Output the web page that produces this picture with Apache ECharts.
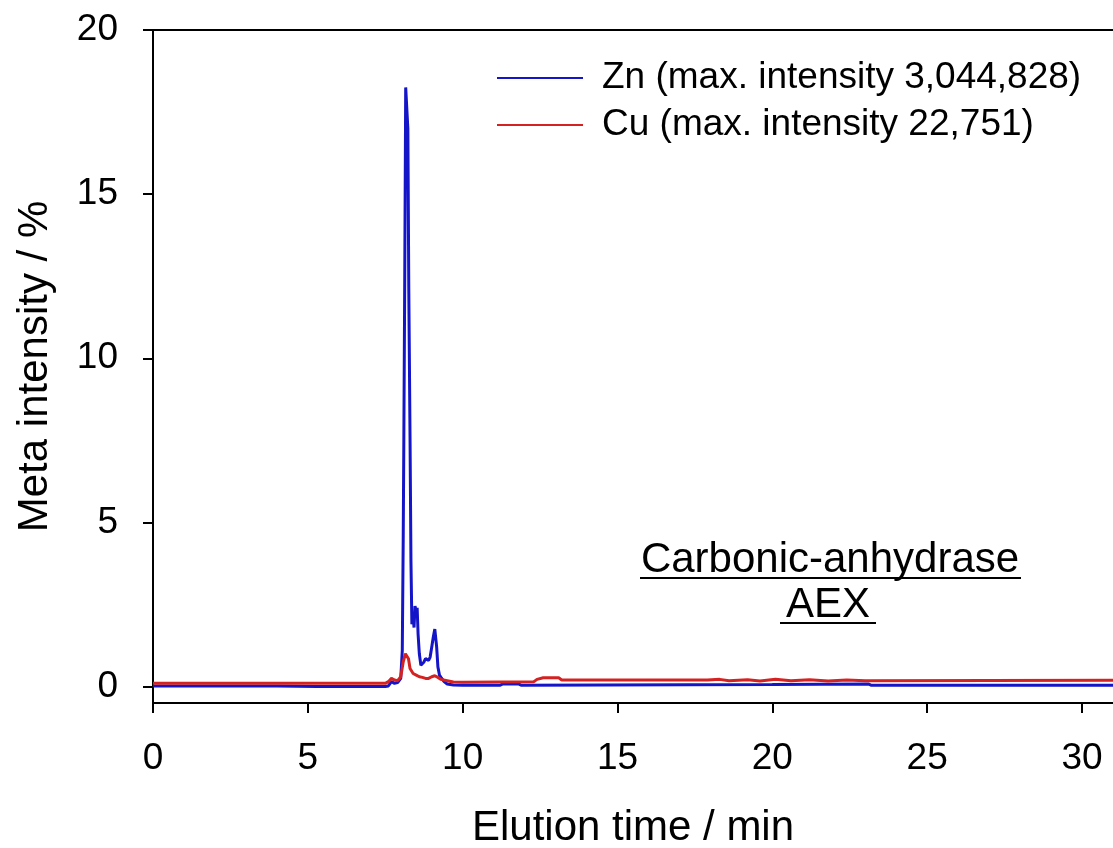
<!DOCTYPE html>
<html>
<head>
<meta charset="utf-8">
<script src="https://cdn.jsdelivr.net/npm/echarts@6/dist/echarts.min.js"></script>
<style>
html,body{margin:0;padding:0;background:#fff;}
#chart{width:1113px;height:848px;}
</style>
</head>
<body>
<div id="chart"></div>
<script>
// ---- data ----
var xTicks = [0, 5, 10, 15, 20, 25, 30];
var yTicks = [0, 5, 10, 15, 20];

var znTime  = [0, 2, 4, 5.3, 6, 7.5, 7.6, 7.7, 7.8, 7.9, 8.0, 8.05, 8.08, 8.1, 8.13, 8.16, 8.2, 8.23, 8.26, 8.3, 8.33, 8.36, 8.4, 8.43, 8.46, 8.5, 8.53, 8.56, 8.6, 8.65, 8.7, 8.75, 8.8, 8.85, 8.9, 8.95, 9.0, 9.05, 9.1, 9.13, 9.16, 9.2, 9.25, 9.3, 9.4, 9.5, 9.7, 10, 11.2, 11.3, 11.8, 11.9, 20, 23.1, 23.2, 31];
var znValue = [0.02, 0.02, 0.02, 0.0, 0.0, 0.0, 0.02, 0.15, 0.1, 0.12, 0.25, 1.1, 4.5, 7.5, 12.6, 18.25, 18.2, 17.0, 12.1, 7.6, 3.8, 1.9, 2.1, 1.8, 2.45, 2.3, 2.4, 1.6, 1.0, 0.65, 0.6, 0.75, 0.85, 0.9, 0.8, 0.9, 1.2, 1.5, 1.75, 1.7, 1.2, 0.6, 0.35, 0.28, 0.15, 0.08, 0.05, 0.04, 0.04, 0.08, 0.08, 0.04, 0.06, 0.08, 0.04, 0.04];

var cuTime  = [0, 7.5, 7.6, 7.7, 7.8, 7.9, 8.0, 8.08, 8.15, 8.2, 8.25, 8.3, 8.4, 8.5, 8.6, 8.7, 8.8, 8.9, 9.0, 9.1, 9.2, 9.3, 9.5, 9.7, 10, 12.3, 12.4, 12.6, 13.1, 13.2, 17.9, 18.3, 18.6, 19.2, 19.6, 20.1, 20.6, 21.2, 21.8, 22.4, 23.0, 31];
var cuValue = [0.1, 0.1, 0.15, 0.25, 0.2, 0.18, 0.3, 0.75, 1.0, 1.05, 0.85, 0.55, 0.4, 0.35, 0.3, 0.28, 0.25, 0.25, 0.3, 0.33, 0.28, 0.22, 0.18, 0.14, 0.13, 0.15, 0.22, 0.27, 0.27, 0.2, 0.2, 0.22, 0.18, 0.21, 0.17, 0.22, 0.18, 0.21, 0.17, 0.2, 0.18, 0.19];

var znName = 'Zn (max. intensity 3,044,828)';
var cuName = 'Cu (max. intensity 22,751)';
var xTitle = 'Elution time / min';
var yTitle = 'Meta intensity / %';
var noteLines = ['Carbonic-anhydrase', 'AEX'];

function pairs(t, v) { return t.map(function (x, i) { return [x, v[i]]; }); }

var FONT = '"Liberation Sans", Arial, sans-serif';
var chart = echarts.init(document.getElementById('chart'), null, {renderer: 'canvas'});

chart.setOption({
  animation: false,
  backgroundColor: '#fff',
  grid: {left: 153, top: 30, right: 0, bottom: 145, containLabel: false, outerBoundsMode: 'none'},
  legend: {
    orient: 'vertical', left: 492, top: 51, itemWidth: 86, itemHeight: 2, itemGap: 3,
    icon: 'rect',
    textStyle: {fontFamily: FONT, fontSize: 37, color: '#000', lineHeight: 44, padding: [0, 0, 0, 14]},
    data: [znName, cuName]
  },
  xAxis: [{
    type: 'value', min: 0, max: 31, position: 'bottom',
    name: xTitle, nameLocation: 'middle', nameGap: 104,
    nameTextStyle: {fontFamily: FONT, fontSize: 42, color: '#000'},
    axisLine: {show: true, onZero: false, lineStyle: {color: '#000', width: 2}},
    axisTick: {show: true, length: 10, lineStyle: {color: '#000', width: 2}, customValues: xTicks},
    axisLabel: {fontFamily: FONT, fontSize: 37, color: '#000', margin: 37, customValues: xTicks},
    splitLine: {show: false}
  }, {
    type: 'value', min: 0, max: 31, position: 'top',
    axisLine: {show: true, onZero: false, lineStyle: {color: '#000', width: 2}},
    axisTick: {show: false}, axisLabel: {show: false}, splitLine: {show: false}
  }],
  yAxis: {
    type: 'value', min: -0.5, max: 20,
    name: yTitle, nameLocation: 'middle', nameGap: 97, nameRotate: 90,
    nameTextStyle: {fontFamily: FONT, fontSize: 42, color: '#000'},
    axisLine: {show: true, onZero: false, lineStyle: {color: '#000', width: 2}},
    axisTick: {show: true, length: 10, lineStyle: {color: '#000', width: 2}, customValues: yTicks},
    axisLabel: {fontFamily: FONT, fontSize: 37, color: '#000', margin: 35, customValues: yTicks},
    splitLine: {show: false}
  },
  series: [{
    name: znName, type: 'line', data: pairs(znTime, znValue),
    showSymbol: false, symbol: 'none', lineStyle: {color: '#1414c8', width: 3}, itemStyle: {color: '#1414c8'}, z: 2
  }, {
    name: cuName, type: 'line', data: pairs(cuTime, cuValue),
    showSymbol: false, symbol: 'none', lineStyle: {color: '#d42222', width: 3}, itemStyle: {color: '#d42222'}, z: 3
  }],
  graphic: [
    {type: 'text', x: 830, y: 560, style: {text: noteLines[0], font: '42px ' + FONT, fill: '#000', align: 'center', verticalAlign: 'middle'}},
    {type: 'rect', shape: {x: 640, y: 577, width: 381, height: 2}, style: {fill: '#000'}},
    {type: 'text', x: 828, y: 605, style: {text: noteLines[1], font: '42px ' + FONT, fill: '#000', align: 'center', verticalAlign: 'middle'}},
    {type: 'rect', shape: {x: 780, y: 622, width: 96, height: 2}, style: {fill: '#000'}}
  ]
});
</script>
</body>
</html>
